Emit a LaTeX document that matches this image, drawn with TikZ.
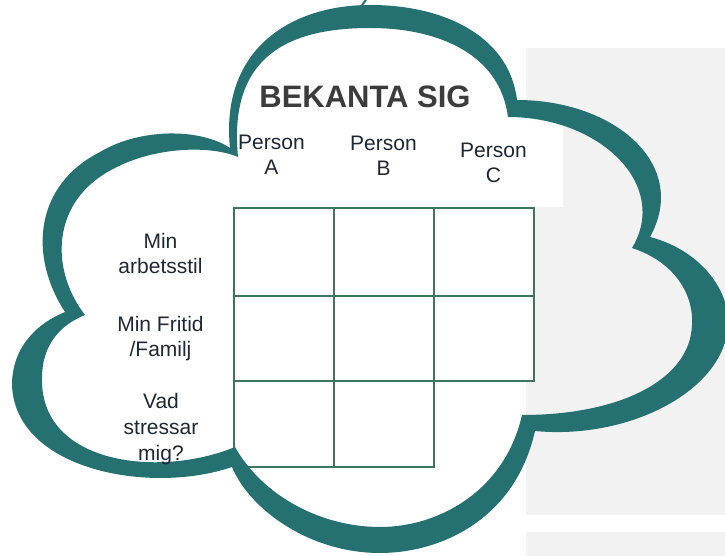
\documentclass[tikz,border=0pt]{standalone}
\usepackage{fontspec}
\setmainfont{Liberation Sans}
\definecolor{cloudteal}{RGB}{37,112,112}
\definecolor{gridgreen}{RGB}{64,118,94}
\definecolor{panelgray}{RGB}{242,242,242}
\definecolor{labeltext}{RGB}{30,40,52}
\definecolor{titletext}{RGB}{60,60,60}
\begin{document}
\begin{tikzpicture}[x=1pt,y=-1pt,
  lbl/.style={font=\fontsize{21}{25}\selectfont, text=labeltext, align=center, inner sep=0pt},
  ttl/.style={font=\fontsize{31}{36}\selectfont\bfseries, text=titletext, inner sep=0pt},
  cell/.style={draw=gridgreen, line width=2pt, fill=white}]
\useasboundingbox (0,0) rectangle (725,556);
\clip (0,0) rectangle (725,556);
% background panels
\fill[panelgray] (526,48) rectangle (725,515);
\fill[panelgray] (526,532) rectangle (725,556);
\fill[white] (230,110) rectangle (563,207);
% small fragment at top
\draw[cloudteal, line width=2pt] (366,0) -- (362,5);
% grid
\foreach \xa/\xb/\ya/\yb in {234/334/208/296, 334/434/208/296, 434/534/208/296,
                             234/334/296/381, 334/434/296/381, 434/534/296/381,
                             234/334/381/467, 334/434/381/467}
  \draw[cell] (\xa,\ya) rectangle (\xb,\yb);
% cloud ring (outer boundary, then inner boundary)
\fill[cloudteal, even odd rule]
  (230,148) .. controls (220,50) and (290,5) .. (370,5)
            .. controls (450,5) and (510,40) .. (517,100)
            .. controls (615,100) and (690,165) .. (650,237)
            .. controls (700,250) and (730,290) .. (728,325)
            .. controls (725,390) and (630,440) .. (535,431)
            .. controls (515,520) and (440,553) .. (380,553)
            .. controls (310,553) and (250,510) .. (232,467)
            .. controls (150,495) and (15,470) .. (12,385)
            .. controls (12,345) and (40,322) .. (65,312)
            .. controls (28,255) and (35,185) .. (100,152)
            .. controls (140,128) and (200,128) .. (230,148) -- cycle
  (238,157) .. controls (228,55) and (290,28) .. (370,28)
            .. controls (440,28) and (500,55) .. (508,117)
            .. controls (600,117) and (670,185) .. (632,248)
            .. controls (675,262) and (694,295) .. (692,325)
            .. controls (690,380) and (620,415) .. (522,415)
            .. controls (505,490) and (440,527) .. (380,527)
            .. controls (320,527) and (262,495) .. (235,447)
            .. controls (160,478) and (40,465) .. (42,378)
            .. controls (42,345) and (60,325) .. (85,315)
            .. controls (50,270) and (50,200) .. (115,168)
            .. controls (155,147) and (210,145) .. (238,157) -- cycle;
% texts
\node[ttl] (title) at (365,97) {BEKANTA SIG};
\node[lbl] (pa) at (271.5,155) {Person\\A};
\node[lbl] (pb) at (383.5,156) {Person\\B};
\node[lbl] (pc) at (493.5,163) {Person\\C};
\node[lbl] (r1) at (160.5,253) {Min\\arbetsstil};
\node[lbl] (r2) at (160.5,339) {Min Fritid\\/Familj};
\node[lbl, font=\fontsize{21}{26}\selectfont] (r3) at (161,429) {Vad\\stressar\\mig?};
\end{tikzpicture}
\end{document}
